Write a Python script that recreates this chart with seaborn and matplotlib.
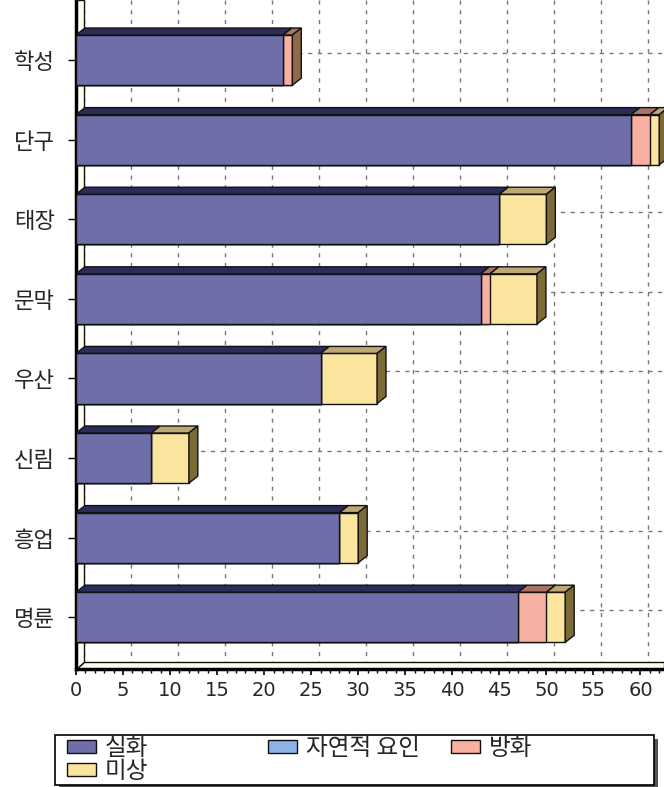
import matplotlib
matplotlib.use('Agg')
import matplotlib.pyplot as plt
from matplotlib.patches import Polygon, Patch, Rectangle
from matplotlib.ticker import MultipleLocator
import seaborn as sns
import pandas as pd

# fire counts by region and cause
regions = ['학성', '단구', '태장', '문막', '우산', '신림', '흥업', '명륜']
causes = ['실화', '자연적 요인', '방화', '미상']
silhwa = [22, 59, 45, 43, 26, 8, 28, 47]
natural = [0, 0, 0, 0, 0, 0, 0, 0]
banghwa = [1, 2, 0, 1, 0, 0, 0, 3]
misang = [0, 1, 5, 5, 6, 4, 2, 2]

front_colors = ['#6E6EA9', '#8DB3E6', '#F8B1A1', '#FBE49D']
top_colors = ['#2C2C58', '#5A7AA8', '#A87366', '#BDA874']
side_colors = ['#34345E', '#4A6A98', '#8E6A48', '#7D6B37']

sns.set_theme(style='ticks')
plt.rcParams['font.family'] = ['Noto Sans CJK KR', 'DejaVu Sans']

df = pd.DataFrame({'region': regions, '실화': silhwa, '자연적 요인': natural,
                   '방화': banghwa, '미상': misang})
cum = df[causes].cumsum(axis=1)

fig = plt.figure(figsize=(6.64, 7.87), dpi=100)
ax = fig.add_axes([76/664, 118/787, 1-76/664, 669/787])

bar_w = 0.63
# stacked bars: draw cumulative totals from the back
for i in range(len(causes)-1, -1, -1):
    sns.barplot(x=cum[causes[i]], y=df['region'], orient='h', color=front_colors[i],
                width=bar_w, edgecolor='#111111', linewidth=1, saturation=1, ax=ax, zorder=3)

xmax = 62.5
ytop, ybot = -0.755, 7.65
dx, dy = 0.95, 0.088      # bar depth
wdx, wdy = 0.85, 0.088    # wall / floor depth

# 3d top faces and right side face
for j in range(len(regions)):
    yt = j - bar_w/2
    yb = j + bar_w/2
    last = None
    for i, c in enumerate(causes):
        val = df[c][j]
        if val <= 0:
            continue
        right = cum[c][j]
        left = right - val
        ax.add_patch(Polygon([(left, yt), (right, yt), (right+dx, yt-dy), (left+dx, yt-dy)],
                             closed=True, facecolor=top_colors[i], edgecolor='#111111',
                             lw=1, zorder=4))
        last = i
    tot = cum[causes[-1]][j]
    ax.add_patch(Polygon([(tot, yt), (tot+dx, yt-dy), (tot+dx, yb-dy), (tot, yb)],
                         closed=True, facecolor=side_colors[last], edgecolor='#111111',
                         lw=1, zorder=4))

# wall and floor
ax.add_patch(Polygon([(0, ybot), (0, ytop), (wdx, ytop), (wdx, ybot-wdy)], closed=True,
                     facecolor='#FFFFF2', edgecolor='#111111', lw=1, zorder=2))
ax.add_patch(Polygon([(0, ybot), (xmax, ybot), (xmax, ybot-wdy), (wdx, ybot-wdy)], closed=True,
                     facecolor='#FFFFF2', edgecolor='#111111', lw=1, zorder=2))

# back-plane grid
ax.vlines([t + wdx for t in range(0, 61, 5)], ytop, ybot-wdy, colors='#777777',
          linestyles=(0, (3, 4)), lw=1, zorder=1)
ax.hlines([j - wdy for j in range(len(regions))], wdx, xmax, colors='#777777',
          linestyles=(0, (3, 4)), lw=1, zorder=1)

ax.set_xlim(0, xmax)
ax.set_ylim(ybot, ytop)
ax.set_xlabel('')
ax.set_ylabel('')
ax.set_xticks(range(0, 61, 5))
ax.xaxis.set_minor_locator(MultipleLocator(1))
ax.yaxis.set_minor_locator(MultipleLocator(0.25))
ax.tick_params(axis='x', which='major', direction='out', length=4, width=1.2,
               labelsize=14, color='black', pad=5)
ax.tick_params(axis='x', which='minor', direction='out', length=3, width=1, color='black')
ax.tick_params(axis='y', which='major', direction='out', length=6, width=1,
               labelsize=16, color='black', pad=9)
ax.tick_params(axis='y', which='minor', direction='in', length=3, width=1, color='black')
for t in ax.get_xticklabels():
    t.set_fontfamily('DejaVu Sans')

for s in ['top', 'right']:
    ax.spines[s].set_visible(False)
for s in ['left', 'bottom']:
    ax.spines[s].set_linewidth(2.5)
    ax.spines[s].set_color('black')

# legend: frame with shadow, then the two groups of entries
W, H = 664, 787
fig.patches.append(Rectangle((59/W, 1-789/H), 599/W, 50/H, transform=fig.transFigure,
                             facecolor='#555555', edgecolor='none', zorder=1))
fig.patches.append(Rectangle((55/W, 1-785/H), 599/W, 50/H, transform=fig.transFigure,
                             facecolor='white', edgecolor='black', lw=1.2, zorder=2))

handles = [Patch(facecolor=c, edgecolor='#111111', lw=1) for c in front_colors]
leg_kw = dict(loc='upper left', frameon=False, fontsize=17, handlelength=1.23,
              handleheight=0.42, handletextpad=0.38, labelspacing=0.0,
              borderpad=0, borderaxespad=0, columnspacing=1.3)
fig.legend([handles[0], handles[3]], [causes[0], causes[3]],
           bbox_to_anchor=(67/W, 1-737/H), ncol=1, **leg_kw)
fig.legend([handles[1], handles[2]], [causes[1], causes[2]],
           bbox_to_anchor=(268/W, 1-737/H), ncol=2, **leg_kw)

fig.savefig('out.png', dpi=100)
